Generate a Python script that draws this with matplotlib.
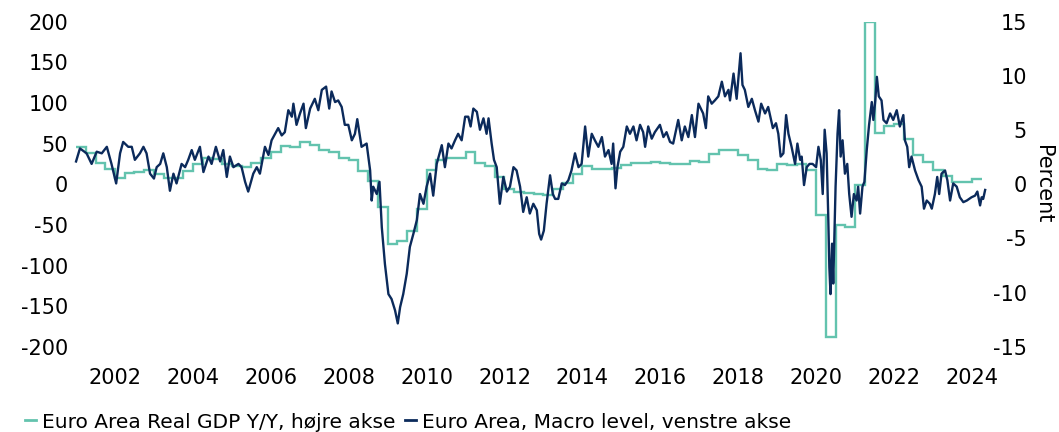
import matplotlib
matplotlib.use("Agg")
import matplotlib.pyplot as plt
from matplotlib.lines import Line2D
import numpy as np

# ---------------- data ----------------
# Euro Area Real GDP Y/Y (%), quarterly, first quarter = 2001Q1
gdp_first_year = 2001.0
gdp_yoy = [
    3.4, 2.9, 2.0, 1.4,        # 2001
    0.6, 1.0, 1.15, 1.35,      # 2002
    0.9, 0.55, 0.55, 1.2,      # 2003
    1.9, 2.45, 2.3, 1.9,       # 2004
    1.65, 1.6, 2.0, 2.45,      # 2005
    2.95, 3.55, 3.4, 3.9,      # 2006
    3.6, 3.2, 3.0, 2.4,        # 2007
    2.2, 1.2, 0.3, -2.1,       # 2008
    -5.55, -5.25, -4.35, -2.25,  # 2009
    1.3, 2.25, 2.45, 2.45,     # 2010
    3.0, 2.0, 1.7, 0.7,        # 2011
    -0.4, -0.7, -0.8, -0.86,   # 2012
    -0.95, -0.4, 0.12, 0.98,   # 2013
    1.69, 1.45, 1.45, 1.5,     # 2014
    1.78, 2.0, 2.0, 2.08,      # 2015
    1.95, 1.88, 1.83, 2.15,    # 2016
    2.06, 2.77, 3.2, 3.2,      # 2017
    2.68, 2.2, 1.45, 1.3,      # 2018
    1.9, 1.75, 1.9, 1.35,      # 2019
    -2.86, -14.06, -3.8, -3.94,  # 2020
    -0.05, 15.0, 4.74, 5.35,   # 2021
    5.54, 4.2, 2.68, 2.06,     # 2022
    1.35, 0.74, 0.22, 0.22,    # 2023
    0.52,                      # 2024
]

# Euro Area, Macro level (decimal year, level)
macro_dates = [
    2001.00, 2001.10, 2001.27, 2001.40, 2001.53, 2001.66, 2001.79, 2001.91,
    2002.03, 2002.13, 2002.21, 2002.34, 2002.43, 2002.51, 2002.64, 2002.73,
    2002.81, 2002.90, 2003.00, 2003.07, 2003.16, 2003.24, 2003.33, 2003.41,
    2003.50, 2003.58, 2003.71, 2003.80, 2003.88, 2003.97, 2004.05, 2004.18,
    2004.27, 2004.40, 2004.48, 2004.59, 2004.70, 2004.78, 2004.87, 2004.95,
    2005.04, 2005.17, 2005.25, 2005.34, 2005.42, 2005.55, 2005.64, 2005.72,
    2005.85, 2005.94, 2006.02, 2006.11, 2006.19, 2006.28, 2006.36, 2006.45,
    2006.54, 2006.58, 2006.66, 2006.75, 2006.84, 2006.90, 2007.01, 2007.13,
    2007.22, 2007.31, 2007.42, 2007.50, 2007.56, 2007.65, 2007.73, 2007.82,
    2007.90, 2007.99, 2008.08, 2008.16, 2008.22, 2008.33, 2008.46, 2008.55,
    2008.59, 2008.63, 2008.72, 2008.79, 2008.85, 2008.93, 2009.02, 2009.10,
    2009.19, 2009.26, 2009.32, 2009.40, 2009.49, 2009.57, 2009.66, 2009.75,
    2009.83, 2009.92, 2010.00, 2010.09, 2010.17, 2010.26, 2010.39, 2010.47,
    2010.56, 2010.64, 2010.73, 2010.81, 2010.90, 2010.99, 2011.07, 2011.13,
    2011.20, 2011.29, 2011.37, 2011.46, 2011.54, 2011.59, 2011.67, 2011.73,
    2011.80, 2011.88, 2011.97, 2012.06, 2012.14, 2012.23, 2012.31, 2012.40,
    2012.48, 2012.57, 2012.65, 2012.74, 2012.83, 2012.89, 2012.94, 2013.01,
    2013.08, 2013.17, 2013.24, 2013.30, 2013.38, 2013.47, 2013.55, 2013.64,
    2013.72, 2013.81, 2013.90, 2013.98, 2014.07, 2014.15, 2014.24, 2014.32,
    2014.41, 2014.50, 2014.58, 2014.67, 2014.75, 2014.79, 2014.85, 2014.90,
    2014.97, 2015.05, 2015.14, 2015.22, 2015.31, 2015.39, 2015.48, 2015.56,
    2015.61, 2015.69, 2015.78, 2015.86, 2015.99, 2016.08, 2016.16, 2016.25,
    2016.33, 2016.46, 2016.55, 2016.63, 2016.72, 2016.81, 2016.89, 2016.98,
    2017.10, 2017.17, 2017.23, 2017.32, 2017.40, 2017.49, 2017.58, 2017.66,
    2017.75, 2017.79, 2017.88, 2017.96, 2018.03, 2018.06, 2018.11, 2018.17,
    2018.26, 2018.35, 2018.43, 2018.52, 2018.59, 2018.69, 2018.77, 2018.89,
    2018.97, 2019.03, 2019.09, 2019.16, 2019.23, 2019.29, 2019.37, 2019.46,
    2019.52, 2019.59, 2019.63, 2019.69, 2019.76, 2019.83, 2019.91, 2020.00,
    2020.06, 2020.12, 2020.17, 2020.22, 2020.27, 2020.31, 2020.34, 2020.37,
    2020.41, 2020.44, 2020.50, 2020.55, 2020.59, 2020.63, 2020.68, 2020.74,
    2020.80, 2020.85, 2020.91, 2020.97, 2021.04, 2021.08, 2021.13, 2021.19,
    2021.24, 2021.30, 2021.36, 2021.43, 2021.47, 2021.52, 2021.56, 2021.61,
    2021.68, 2021.73, 2021.81, 2021.90, 2021.98, 2022.07, 2022.15, 2022.24,
    2022.28, 2022.34, 2022.39, 2022.45, 2022.54, 2022.63, 2022.71, 2022.77,
    2022.84, 2022.92, 2022.97, 2023.05, 2023.11, 2023.16, 2023.22, 2023.31,
    2023.37, 2023.44, 2023.52, 2023.61, 2023.69, 2023.78, 2023.87, 2023.99,
    2024.08, 2024.14, 2024.21, 2024.25, 2024.29, 2024.34,
]
macro_level = [
    28, 44, 38, 25, 40, 38, 46, 25,
    1, 38, 52, 46, 46, 30, 38, 46,
    38, 13, 7, 21, 25, 38, 21, -8,
    13, 1, 25, 21, 30, 42, 30, 46,
    15, 34, 25, 46, 28, 42, 9, 34,
    21, 25, 21, 3, -9, 13, 21, 13,
    46, 36, 54, 62, 69, 60, 64, 91,
    83, 99, 73, 87, 99, 69, 93, 105,
    91, 116, 120, 93, 114, 101, 103, 95,
    73, 73, 54, 62, 80, 46, 50, 17,
    -20, -3, -12, 3, -53, -98, -135, -141,
    -155, -171, -151, -135, -110, -77, -61, -44,
    -12, -24, -3, 13, -14, 25, 48, 21,
    50, 44, 54, 62, 54, 83, 83, 71,
    93, 89, 67, 81, 62, 81, 50, 30,
    21, -24, 9, -9, -3, 21, 17, -3,
    -34, -16, -36, -24, -32, -61, -68, -57,
    -24, 11, -12, -18, -18, 1, -1, 5,
    17, 38, 21, 25, 71, 34, 62, 54,
    46, 58, 34, 42, 25, 50, -5, 21,
    40, 46, 71, 62, 71, 54, 73, 64,
    46, 71, 56, 64, 73, 58, 64, 52,
    50, 79, 54, 71, 58, 85, 58, 99,
    87, 69, 108, 99, 103, 108, 126, 108,
    116, 103, 136, 105, 144, 161, 122, 116,
    95, 105, 91, 77, 99, 87, 95, 69,
    75, 62, 34, 38, 85, 62, 46, 25,
    50, 30, 34, -1, 21, 25, 25, 21,
    46, 30, -12, 67, 38, -36, -102, -135,
    -73, -122, -3, 62, 91, 34, 54, 13,
    25, -12, -40, -12, -20, -3, -36, -3,
    3, 42, 73, 101, 79, 103, 132, 108,
    103, 79, 75, 87, 79, 91, 71, 85,
    54, 46, 21, 34, 17, 5, -3, -30,
    -20, -24, -30, -12, 9, -12, 13, 17,
    5, -20, 1, -3, -16, -22, -20, -16,
    -14, -9, -26, -16, -18, -7,
]

year_ticks = list(range(2002, 2025, 2))
left_ticks = [-200, -150, -100, -50, 0, 50, 100, 150, 200]
right_ticks = [-15, -10, -5, 0, 5, 10, 15]

gdp_label = "Euro Area Real GDP Y/Y, højre akse"
macro_label = "Euro Area, Macro level, venstre akse"

# ---------------- style ----------------
TEAL = "#63C3AE"
NAVY = "#0B2A5B"
FONT = "DejaVu Sans"
plt.rcParams["font.family"] = [FONT]

W, H = 1059, 432
fig = plt.figure(figsize=(W / 100, H / 100), dpi=100)

ax_l, ax_r, ax_b, ax_t = 74, 990, 347, 21.5
ax = fig.add_axes([ax_l / W, (H - ax_b) / H, (ax_r - ax_l) / W, (ax_b - ax_t) / H])
ax2 = ax.twinx()

# GDP steps (right axis)
gdp_edges = gdp_first_year + 0.25 * np.arange(len(gdp_yoy) + 1)
ax2.stairs(gdp_yoy, gdp_edges, baseline=None, color=TEAL, linewidth=1.7)

# Macro level (left axis), drawn on top
ax.plot(macro_dates, macro_level, color=NAVY, linewidth=1.7, solid_joinstyle="round")
ax.set_zorder(ax2.get_zorder() + 1)
ax.patch.set_visible(False)

px_per_year = 38.95
x0 = 2002 + (ax_l - 115) / px_per_year
x1 = 2002 + (ax_r - 115) / px_per_year
ax.set_xlim(x0, x1)
ax.set_ylim(-200, 200)
ax2.set_ylim(-15, 15)

ax.set_xticks(year_ticks)
ax.set_xticklabels([str(y) for y in year_ticks])
ax.set_yticks(left_ticks)
ax.set_yticklabels([str(v) for v in left_ticks])
ax2.set_yticks(right_ticks)
ax2.set_yticklabels([str(v) for v in right_ticks])

for a in (ax, ax2):
    for s in a.spines.values():
        s.set_visible(False)

ax.tick_params(axis="x", length=0, pad=15, labelsize=15, colors="#000000")
ax.tick_params(axis="y", length=0, pad=4.3, labelsize=15, colors="#000000")
ax2.tick_params(axis="y", length=0, pad=26.6, labelsize=15, colors="#000000")
for lbl in ax2.get_yticklabels():
    lbl.set_horizontalalignment("right")

fig.text(1043 / W, (H - 184) / H, "Percent", rotation=270, ha="center", va="center",
         fontsize=15, color="#000000")

handles = [Line2D([], [], color=TEAL, linewidth=2), Line2D([], [], color=NAVY, linewidth=2)]
fig.legend(handles, [gdp_label, macro_label], loc="center left",
           bbox_to_anchor=(25 / W, (H - 422) / H), ncol=2, frameon=False,
           fontsize=14.5, handlelength=0.55, handletextpad=0.3, columnspacing=0.45,
           borderpad=0, borderaxespad=0)

fig.savefig("out.png", dpi=100)
